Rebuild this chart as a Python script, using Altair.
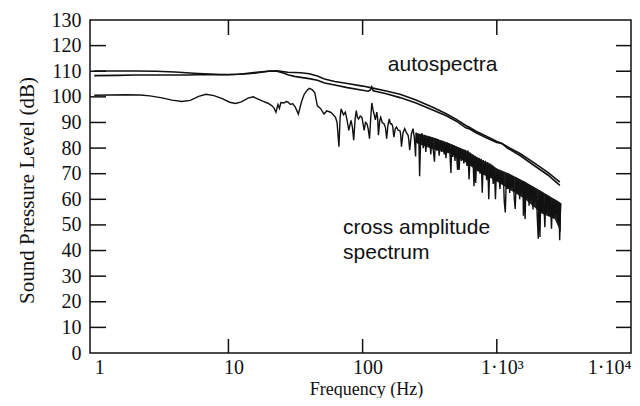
import altair as alt
import pandas as pd

# ---- autospectrum 1 (upper at low frequency) ----
auto1_f = [1.0, 1.5, 2.0, 2.9, 4.0, 5.5, 7.1, 8.5, 10, 12, 14, 17, 20.4, 23, 26, 27.7, 31, 34.6,
           40, 46, 52, 62, 77, 100, 117, 150, 190, 250, 333, 420, 500, 587, 620, 700, 850,
           1000, 1090, 1200, 1500, 1910, 2400, 2950]
auto1_db = [110.1, 110.1, 110.1, 110.0, 109.7, 109.2, 108.9, 108.7, 108.7, 108.8, 109.2, 109.7,
            110.1, 110.2, 109.8, 109.6, 109.5, 109.4, 109.0, 108.1, 107.0, 106.0, 105.2, 104.2,
            103.5, 102.3, 101.0, 98.8, 95.9, 93.4, 91.2, 88.8, 88.2, 86.6, 84.4, 82.6, 81.8,
            80.5, 77.8, 74.1, 70.5, 66.7]

# ---- autospectrum 2 ----
auto2_f = [1.0, 1.5, 2.0, 3.0, 5.0, 7.1, 10, 14, 17, 20, 23, 26, 27.7, 31, 34.6, 40, 46, 52, 62,
           77, 100, 110, 114, 117, 120, 150, 190, 250, 333, 420, 500, 587, 620, 700, 850, 1000,
           1090, 1200, 1500, 1910, 2400, 2950]
auto2_db = [108.3, 108.4, 108.5, 108.5, 108.5, 108.7, 108.6, 109.0, 109.5, 110.0, 110.0, 109.2,
            108.6, 108.0, 107.6, 107.1, 106.5, 105.4, 104.6, 103.6, 102.6, 102.2, 102.6, 103.9,
            102.4, 101.2, 99.7, 97.6, 94.9, 92.6, 90.5, 87.9, 87.6, 86.0, 83.8, 82.2, 81.8, 80.0,
            77.0, 73.1, 69.5, 65.4]

# ---- cross amplitude spectrum ----
cross_f = [1.0, 1.3, 1.7, 2.2, 2.6, 3.2, 3.8, 4.5, 5.2, 6.0, 6.8, 7.8, 9.0, 10.2, 11.3, 12.5,
           14.0, 15.3, 16.5, 18.0, 19.7, 21.0, 21.8, 22.6, 23.4, 24.0, 24.6, 26.0, 26.9, 27.7,
           29.0, 30.1, 31.5, 33.2, 35.0, 36.7, 38.5, 40.0, 42.0, 44.0, 46.0, 48.5, 51.6, 54.0,
           57.7, 60.0, 62.8, 64.5, 66.6, 68.0, 69.2, 72.0, 74.4, 76.5, 78.9, 80.5, 82.0, 84.0,
           85.8, 88.0, 89.7, 91.5, 93.4, 96.0, 98.8, 100.7, 102.7, 105.0, 107.6, 110.0, 112.6,
           115.0, 117.1, 119.5, 121.7, 124.5, 127.5, 129.5, 131.2, 134.0, 136.4, 140.0, 144.3,
           148.0, 151.1, 154.5, 158.1, 161.0, 164.4, 167.5, 171.0, 175.0, 178.9, 184.0, 189.3,
           192.0, 194.8, 200.0, 206.0, 212.0, 218.3, 221.0, 224.3, 231.0, 237.6, 243.0, 248.3,
           250, 256, 262, 266, 271, 277, 283, 289, 296, 302, 309, 316, 322, 329, 336, 343, 350,
           357, 364, 372, 380, 388, 396, 405, 411, 418, 426, 434, 442, 448, 455, 462, 470, 478,
           488, 497, 510, 518, 524, 533, 545, 556, 568, 580, 600, 610, 621, 635, 650, 663, 676,
           688, 696, 708, 722, 736, 750, 765, 779, 793, 808, 823, 840, 856, 871, 888,
           905, 923, 940, 958, 977, 995, 1015, 1035, 1055, 1075, 1096, 1117, 1137, 1157, 1180,
           1200, 1224, 1248, 1272, 1297, 1322, 1347, 1371, 1398, 1425, 1452, 1480, 1508, 1537,
           1566, 1578, 1600, 1625, 1650, 1680, 1710, 1740, 1770, 1800, 1830, 1860, 1890, 1925,
           1960, 1995, 2036, 2060, 2096, 2130, 2170, 2210, 2250, 2281, 2320, 2360, 2400, 2450,
           2500, 2556, 2600, 2650, 2700, 2750, 2800, 2850, 2900, 2942, 2970, 3000]
cross_db = [100.6, 100.7, 100.8, 100.7, 100.4, 99.6, 98.7, 98.2, 98.6, 100.2, 101.0, 100.5, 99.3,
            97.9, 97.4, 98.0, 99.5, 100.0, 99.2, 98.3, 97.5, 96.6, 95.8, 94.0, 97.0, 95.5, 97.8,
            97.6, 98.2, 98.0, 97.0, 97.4, 96.0, 93.3, 98.0, 101.0, 102.5, 103.3, 102.8, 101.7,
            96.5, 95.5, 93.3, 94.5, 94.0, 93.2, 92.0, 90.0, 80.5, 92.0, 95.3, 93.0, 94.0, 91.0,
            86.9, 89.0, 90.8, 88.0, 83.1, 91.5, 94.6, 92.0, 91.4, 92.5, 92.0, 89.5, 86.9, 90.0,
            89.5, 87.5, 83.7, 92.0, 97.6, 95.0, 93.3, 91.0, 94.0, 91.5, 85.0, 90.5, 92.0, 90.0,
            89.5, 88.0, 83.7, 89.0, 91.4, 89.5, 89.5, 88.5, 84.3, 87.5, 88.2, 87.0, 86.9, 85.5,
            80.5, 86.0, 87.6, 86.0, 85.0, 83.0, 79.2, 85.5, 87.6, 84.0, 76.7,
            86.0, 82.0, 85.5, 69.0, 84.5, 85.8, 80.0, 85.2, 78.5, 84.8, 81.0, 84.5, 77.5, 84.2,
            79.5, 74.7, 83.8, 79.0, 83.5, 77.0, 83.0, 78.5, 82.8, 77.5, 82.5, 76.0, 82.2, 78.0,
            81.9, 77.5, 70.3, 81.5, 76.5, 81.2, 75.0, 80.8, 71.5, 80.4, 71.5, 80.0, 75.0, 79.6,
            74.0, 79.3, 73.0, 79.0, 67.7, 78.2, 73.0, 77.5, 65.1, 77.0, 66.4, 76.6, 71.0, 76.2,
            70.0, 75.8, 62.6, 75.3, 69.5, 75.0, 67.5, 74.5, 60.0, 74.0,
            68.5, 73.0, 66.0, 72.5, 60.0, 72.0, 67.0, 71.5, 64.0, 71.0, 66.0, 70.5, 59.0, 54.9,
            70.0, 64.0, 70.0, 62.5, 69.5, 64.5, 69.0, 61.0, 56.2, 68.5, 62.5, 68.0, 60.0, 67.5,
            62.5, 67.0, 53.6, 66.8, 52.3, 66.5, 60.5, 66.0, 57.5, 65.5, 60.0, 65.0, 56.0, 64.5,
            59.0, 64.0, 55.0, 44.6, 63.5, 45.3, 63.0, 55.0, 62.5, 56.5, 49.1, 62.0, 55.0, 61.5,
            53.5, 61.0, 48.5, 60.5, 52.5, 60.0, 54.0, 59.5, 51.0, 59.0, 44.0, 53.0, 58.5]

# dense part of the cross spectrum (envelope of the dark band)
band_f = [250, 334, 442, 524, 600, 696, 800, 923, 1000, 1224, 1625, 2157, 2703, 3000]
band_hi = [86.0, 84.2, 81.9, 80.2, 79.0, 76.7, 75.0, 73.5, 72.0, 70.2, 66.9, 63.1, 60.0, 58.6]
band_lo = [82.0, 79.5, 78.0, 76.2, 74.0, 71.5, 69.5, 68.0, 67.0, 64.0, 60.0, 54.5, 52.3, 47.0]

# axes
y_tick_values = [0, 10, 20, 30, 40, 50, 60, 70, 80, 90, 100, 110, 120, 130]
y_inner_ticks = [10, 20, 30, 40, 50, 60, 70, 80, 90, 100, 110, 120]
x_tick_values = [1, 10, 100, 1000, 10000]
x_tick_labels = ["1", "10", "100", "1·10³", "1·10⁴"]
x_inner_ticks = [10, 100, 1000]

# annotations
notes_text = ["autospectra", "cross amplitude", "spectrum"]
notes_f = [154, 71.5, 71.5]
notes_db = [110.0, 46.5, 36.6]

W, H = 541, 333
INK = "#111111"
SERIF = "Liberation Serif"
SANS = "Liberation Sans"

auto_df = pd.concat([
    pd.DataFrame({"f": auto1_f, "db": auto1_db, "series": "auto1"}),
    pd.DataFrame({"f": auto2_f, "db": auto2_db, "series": "auto2"}),
])
cross_df = pd.DataFrame({"f": cross_f, "db": cross_db})
band_df = pd.DataFrame({"f": band_f, "db": band_hi, "lo": band_lo})
ytick_df = pd.DataFrame({"db": y_inner_ticks})
xtick_df = pd.DataFrame({"f": x_inner_ticks})
notes_df = pd.DataFrame({"f": notes_f, "db": notes_db, "text": notes_text})

xs = alt.Scale(type="log", domain=[0.93, 10000])
ys = alt.Scale(domain=[0, 130])

label_expr = "''"
for v, t in reversed(list(zip(x_tick_values, x_tick_labels))):
    label_expr = f"datum.value == {v} ? '{t}' : ({label_expr})"

x_axis = alt.Axis(values=x_tick_values, labelExpr=label_expr, title="Frequency (Hz)",
                  ticks=False, domain=False, grid=False, labelFlush=True, labelFlushOffset=-5,
                  labelOffset=5, labelOverlap=False,
                  labelPadding=4, labelFont=SERIF, labelFontSize=20, labelColor=INK,
                  titleFont=SERIF, titleFontSize=18, titleFontWeight="normal", titleColor=INK,
                  titleBaseline="alphabetic", titleY=41, titleX=276)
y_axis = alt.Axis(values=y_tick_values, title="Sound Pressure Level (dB)",
                  ticks=False, domain=False, grid=False, labelFlush=False, labelOverlap=False,
                  labelPadding=9, labelFont=SERIF, labelFontSize=20, labelColor=INK,
                  titleFont=SERIF, titleFontSize=21, titleFontWeight="normal", titleColor=INK,
                  titleAngle=270, titleBaseline="alphabetic", titleAlign="center",
                  titleX=-57, titleY=170)


def X():
    return alt.X("f:Q", scale=xs, axis=x_axis)


def Y(field="db"):
    return alt.Y(f"{field}:Q", scale=ys, axis=y_axis)


auto_lines = alt.Chart(auto_df).mark_line(color=INK, strokeWidth=1.6).encode(
    x=X(), y=Y(), detail="series:N",
)

band = alt.Chart(band_df).mark_area(color="#151515", opacity=0.95).encode(
    x=X(), y=Y(), y2="lo:Q",
)

cross_line = alt.Chart(cross_df).mark_line(color=INK, strokeWidth=1.4).encode(
    x=X(), y=Y(),
)

left_ticks = alt.Chart(ytick_df).mark_rule(color=INK, strokeWidth=1.5).encode(
    y=Y(), x=alt.value(0), x2=alt.value(16))
right_ticks = alt.Chart(ytick_df).mark_rule(color=INK, strokeWidth=1.5).encode(
    y=Y(), x=alt.value(W - 15), x2=alt.value(W))
top_ticks = alt.Chart(xtick_df).mark_rule(color=INK, strokeWidth=1.5).encode(
    x=X(), y=alt.value(0), y2=alt.value(15))
bottom_ticks = alt.Chart(xtick_df).mark_rule(color=INK, strokeWidth=1.5).encode(
    x=X(), y=alt.value(H - 14), y2=alt.value(H))

notes = alt.Chart(notes_df).mark_text(align="left", baseline="alphabetic", font=SANS,
                                      fontSize=21, color=INK).encode(
    x=X(), y=Y(), text="text:N",
)

chart = alt.layer(
    band, cross_line, auto_lines, left_ticks, right_ticks, top_ticks, bottom_ticks, notes
).properties(
    width=W, height=H,
    autosize=alt.AutoSizeParams(type="none"),
    padding={"left": 82, "top": 12, "right": 1, "bottom": 45},
    background="white",
).configure_view(stroke=INK, strokeWidth=1.5)

chart.save("out.html", embed_options={"renderer": "svg", "actions": False})
